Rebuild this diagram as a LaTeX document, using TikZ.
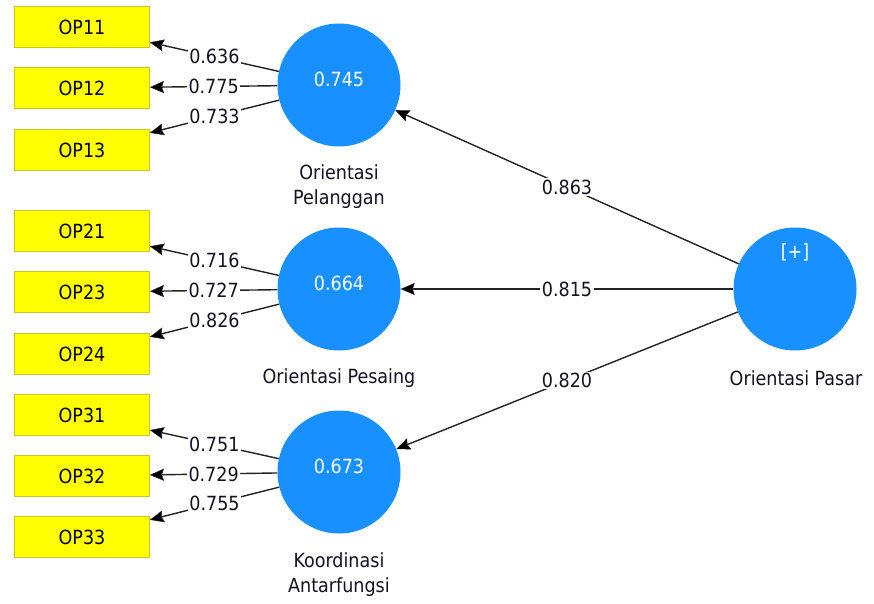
\documentclass[tikz,border=0pt]{standalone}
\usepackage{fontspec}
\setmainfont{DejaVu Sans Condensed}
\usepackage{xcolor}
\usetikzlibrary{arrows.meta}

\definecolor{plsblue}{RGB}{24,144,255}
\definecolor{indfill}{RGB}{255,255,0}
\definecolor{inddraw}{RGB}{200,200,40}
\definecolor{txt}{RGB}{20,18,35}
\definecolor{linec}{RGB}{35,35,35}

\tikzset{
  ind/.style={draw=inddraw, fill=indfill, line width=0.8pt, minimum width=135pt,
    minimum height=41pt, inner sep=0pt, text=black},
  lv/.style={circle, fill=plsblue, minimum size=123pt, inner sep=0pt},
  lvname/.style={text=txt, align=center, inner sep=0pt},
  load/.style={draw=linec, line width=1.4pt,
    -{Stealth[length=14pt,width=12pt,inset=2pt,fill=black,line width=0.5pt]}},
  val/.style={fill=white, text=txt, inner sep=1.5pt, pos=0.5}
}

\begin{document}
\begin{tikzpicture}[x=1pt, y=-1pt, font=\fontsize{19.5}{25}\selectfont]
    \useasboundingbox (0,0) rectangle (874,604);

    % Latent variables
    \node[lv] (pel) at (339,85) {};
    \node[text=white] (pelv) at (339,79) {0.745};
    \node[lvname] (pelname) at (339,187) {Orientasi\\Pelanggan};

    \node[lv] (pes) at (339,289) {};
    \node[text=white] (pesv) at (339,283) {0.664};
    \node[lvname] (pesname) at (339,378) {Orientasi Pesaing};

    \node[lv] (koo) at (339,472) {};
    \node[text=white] (koov) at (339,466) {0.673};
    \node[lvname] (kooname) at (339,575) {Koordinasi\\Antarfungsi};

    \node[lv] (pas) at (795,289) {};
    \node[text=white] (pasplus) at (795,252) {[+]};
    \node[lvname] (pasname) at (796,378) {Orientasi Pasar};

    % Indicators
    \foreach \n/\y in {OP11/27, OP12/88, OP13/150, OP21/231, OP23/292, OP24/354,
                       OP31/415, OP32/476, OP33/537} {
        \node[ind] (\n) at (82,\y) {\n};
    }

    % Outer loadings
    \foreach \n/\v in {OP11/0.636, OP12/0.775, OP13/0.733}
        \draw[load] (pel) -- node[val] {\v} (\n);
    \foreach \n/\v in {OP21/0.716, OP23/0.727, OP24/0.826}
        \draw[load] (pes) -- node[val] {\v} (\n);
    \foreach \n/\v in {OP31/0.751, OP32/0.729, OP33/0.755}
        \draw[load] (koo) -- node[val] {\v} (\n);

    % Second-order paths
    \draw[load] (pas) -- node[val] {0.863} (pel);
    \draw[load] (pas) -- node[val] {0.815} (pes);
    \draw[load] (pas) -- node[val] {0.820} (koo);
\end{tikzpicture}
\end{document}
